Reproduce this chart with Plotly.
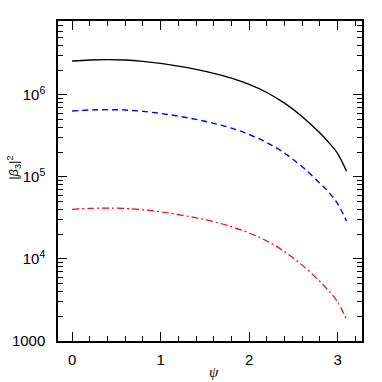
import plotly.graph_objects as go

psi = [0, 0.2, 0.4, 0.6, 0.8, 1.0, 1.2, 1.4, 1.6, 1.8, 2.0, 2.2, 2.4, 2.6, 2.8, 2.9, 3.0, 3.1]
black_vals = [2.600e6, 2.673e6, 2.698e6, 2.667e6, 2.570e6, 2.427e6, 2.249e6, 2.051e6, 1.837e6,
              1.603e6, 1.343e6, 1.072e6, 7.94e5, 5.43e5, 3.43e5, 2.63e5, 1.93e5, 1.175e5]
blue_vals = [6.38e5, 6.56e5, 6.62e5, 6.55e5, 6.31e5, 5.96e5, 5.52e5, 5.04e5, 4.51e5,
             3.94e5, 3.30e5, 2.63e5, 1.95e5, 1.33e5, 8.4e4, 6.5e4, 4.7e4, 2.9e4]
red_vals = [4.03e4, 4.14e4, 4.18e4, 4.13e4, 3.98e4, 3.76e4, 3.48e4, 3.18e4, 2.85e4,
            2.48e4, 2.08e4, 1.66e4, 1.23e4, 8.41e3, 5.31e3, 4.07e3, 2.99e3, 1.82e3]

y_tickvals = [1e3, 1e4, 1e5, 1e6]
y_ticktext = ["1000", "10<sup>4</sup>", "10<sup>5</sup>", "10<sup>6</sup>"]
x_tickvals = [0, 1, 2, 3]

y_minor = [m * 10 ** e for e in range(3, 7) for m in range(2, 10) if m * 10 ** e < 8e6]
x_minor = [round(i * 0.2, 1) for i in range(0, 17)]

fig = go.Figure()
fig.add_trace(go.Scatter(x=psi, y=black_vals, mode="lines", line_shape="spline",
                         line=dict(color="black", width=1.4)))
fig.add_trace(go.Scatter(x=psi, y=blue_vals, mode="lines", line_shape="spline",
                         line=dict(color="#0000ff", width=1.4, dash="6px,4px")))
fig.add_trace(go.Scatter(x=psi, y=red_vals, mode="lines", line_shape="spline",
                         line=dict(color="#ff0000", width=1.2, dash="7px,3px,2px,3px")))

font = dict(family="Liberation Sans, Arial, sans-serif", size=15, color="black")

fig.update_layout(
    width=382, height=382,
    margin=dict(l=53, r=20, t=21, b=41),
    paper_bgcolor="white", plot_bgcolor="white",
    showlegend=False,
    font=font,
    xaxis=dict(
        range=[-0.159, 3.275], tickmode="array", tickvals=x_tickvals,
        ticks="inside", ticklen=9, tickwidth=1.3, tickcolor="black",
        showline=True, linecolor="black", linewidth=1.5, mirror="allticks",
        showgrid=False, zeroline=False, ticklabelstandoff=4,
        minor=dict(tickmode="array", tickvals=x_minor, ticks="inside", ticklen=5,
                   tickwidth=1.2, tickcolor="black", showgrid=False),
    ),
    yaxis=dict(
        type="log", range=[3, 6.902], tickmode="array", tickvals=y_tickvals,
        ticktext=y_ticktext,
        ticks="inside", ticklen=9, tickwidth=1.3, tickcolor="black",
        showline=True, linecolor="black", linewidth=1.5, mirror="allticks",
        showgrid=False, zeroline=False, ticklabelstandoff=8,
        minor=dict(tickmode="array", tickvals=y_minor, ticks="inside", ticklen=5,
                   tickwidth=1.2, tickcolor="black", showgrid=False),
    ),
    annotations=[
        dict(text="|<i>β</i><sub>3</sub>|<sup>2</sup>", xref="paper", yref="paper",
             x=(8 - 53) / 308.7, y=(340.7 - 168) / 319.7, xanchor="center", yanchor="middle",
             textangle=-90, showarrow=False, font=dict(size=13, color="black",
                                                       family="Liberation Sans, Arial, sans-serif")),
        dict(text="<i>ψ</i>", xref="paper", yref="paper",
             x=(211.5 - 53) / 308.7, y=(340.7 - 372) / 319.7, xanchor="center", yanchor="middle",
             showarrow=False, font=dict(size=15, color="black",
                                        family="Liberation Serif, serif")),
    ],
)

fig.write_html("out.html", config={"displayModeBar": False},
               post_script="document.body.style.margin='0';document.body.style.overflow='hidden';")
